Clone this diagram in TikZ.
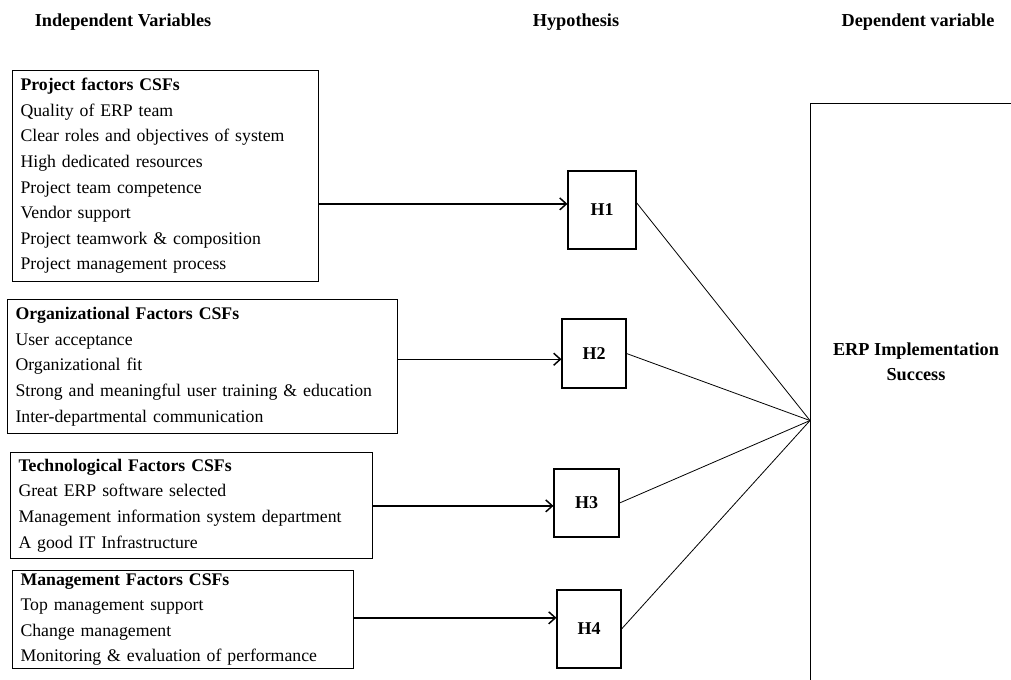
\documentclass[tikz,border=0pt]{standalone}
\usepackage{fontspec}
\setmainfont{Liberation Serif}
\usetikzlibrary{arrows.meta}

\begin{document}
\begin{tikzpicture}[x=0.75pt,y=-0.75pt]
%\draw[help lines] (0,0) grid (1011,679);
\tikzstyle{fac}=[rectangle,draw,line width=0.8pt,inner xsep=6pt,inner ysep=1pt,anchor=north west,align=left,font=\fontsize{13.3}{19.2}\selectfont]
\tikzstyle{hyp}=[rectangle,draw,line width=0.8pt,font=\bfseries\fontsize{13.5}{15}\selectfont]
\tikzstyle{head}=[font=\bfseries\fontsize{13.7}{15}\selectfont]
\tikzstyle{arr}=[-{Straight Barb[length=5pt,width=9pt]},line width=1.1pt]
\useasboundingbox (0,0) rectangle (1011,679);
\clip (0,0) rectangle (1011,679);

\node[head] (iv) at (123,22) {Independent Variables};
\node[head] (hy) at (576,22) {Hypothesis};
\node[head] (dv) at (918,22) {Dependent variable};

\node[fac,text width=217.5pt,minimum height=158.25pt] (f1) at (12,70) {\textbf{Project factors CSFs}\\Quality of ERP team\\Clear roles and objectives of system\\High dedicated resources\\Project team competence\\Vendor support\\Project teamwork \& composition\\Project management process};

\node[fac,text width=280.5pt,minimum height=100.5pt] (f2) at (7,299) {\textbf{Organizational Factors CSFs}\\User acceptance\\Organizational fit\\Strong and meaningful user training \& education\\Inter-departmental communication};

\node[fac,text width=259.5pt,minimum height=79.5pt] (f3) at (10,452) {\textbf{Technological Factors CSFs}\\Great ERP software selected\\Management information system department\\A good IT Infrastructure};

\node[fac,text width=243.75pt,minimum height=73.5pt] (f4) at (12,570) {\textbf{Management Factors CSFs}\\Top management support\\Change management\\Monitoring \& evaluation of performance};

\node[hyp,minimum width=51pt,minimum height=58.5pt] (h1) at (602,210) {H1};
\node[hyp,minimum width=48pt,minimum height=51.75pt] (h2) at (594,353.5) {H2};
\node[hyp,minimum width=48.75pt,minimum height=51pt] (h3) at (586.5,503) {H3};
\node[hyp,minimum width=48pt,minimum height=58.5pt] (h4) at (589,629) {H4};

\node[rectangle,draw,line width=0.8pt,anchor=north west,minimum width=159pt,minimum height=475.5pt] (erp) at (810,103) {};
\node[head,align=center,font=\bfseries\fontsize{13.7}{18.75}\selectfont] (es) at (916,362) {ERP Implementation\\Success};

\path (h1.170 -| f1.east) edge[arr] (h1.170);
\path (h2.190 -| f2.east) edge[arr] (h2.190);
\path (h3.185 -| f3.east) edge[arr] (h3.185);
\path (h4.161 -| f4.east) edge[arr] (h4.161);

\path[line width=0.6pt] (h1.12) edge (erp.west);
\path[line width=0.6pt] (h2.east) edge (erp.west);
\path[line width=0.6pt] (h3.east) edge (erp.west);
\path[line width=0.6pt] (h4.east) edge (erp.west);
\end{tikzpicture}
\end{document}
